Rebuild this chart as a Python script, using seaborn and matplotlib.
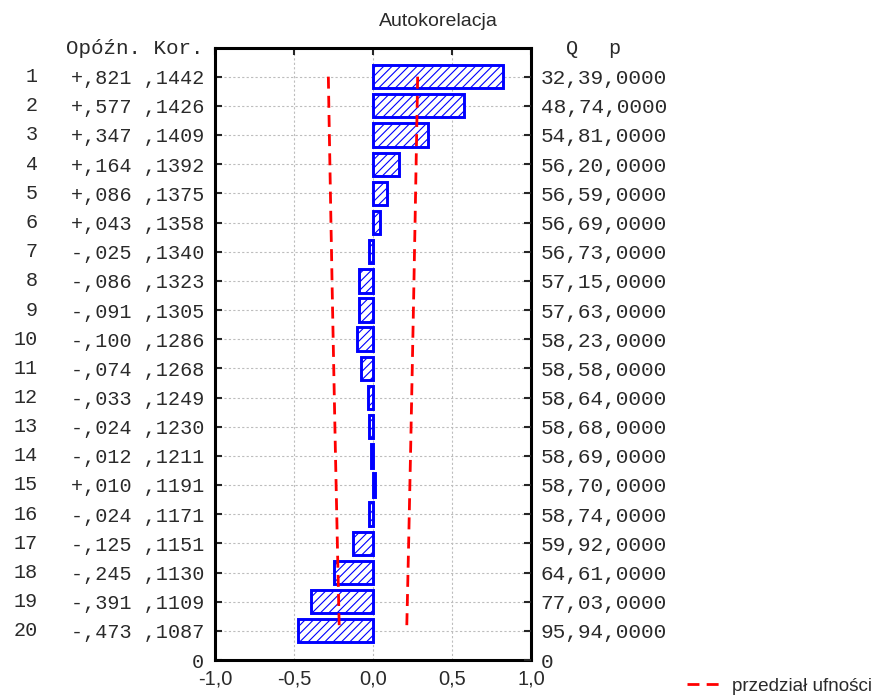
import matplotlib
matplotlib.use("Agg")
import matplotlib.pyplot as plt
from matplotlib.lines import Line2D
from matplotlib.transforms import blended_transform_factory
import seaborn as sns

# Autocorrelation function: lag, coefficient, standard error, Box-Ljung Q, p
lags = list(range(1, 21))
autocorr = [0.821, 0.577, 0.347, 0.164, 0.086, 0.043, -0.025, -0.086, -0.091, -0.100,
            -0.074, -0.033, -0.024, -0.012, 0.010, -0.024, -0.125, -0.245, -0.391, -0.473]
std_err = [0.1442, 0.1426, 0.1409, 0.1392, 0.1375, 0.1358, 0.1340, 0.1323, 0.1305, 0.1286,
           0.1268, 0.1249, 0.1230, 0.1211, 0.1191, 0.1171, 0.1151, 0.1130, 0.1109, 0.1087]
q_stat = [32.39, 48.74, 54.81, 56.20, 56.59, 56.69, 56.73, 57.15, 57.63, 58.23,
          58.58, 58.64, 58.68, 58.69, 58.70, 58.74, 59.92, 64.61, 77.03, 95.94]
p_value = [0.0] * 20
# Confidence limits (1.96 * standard error)
conf_limit = [0.2826, 0.2795, 0.2762, 0.2728, 0.2695, 0.2662, 0.2626, 0.2593, 0.2558, 0.2521,
              0.2485, 0.2448, 0.2411, 0.2374, 0.2334, 0.2295, 0.2256, 0.2215, 0.2174, 0.2131]
x_ticks = [-1.0, -0.5, 0.0, 0.5, 1.0]
x_tick_labels = ["-1,0", "-0,5", "0,0", "0,5", "1,0"]

MONO = "Liberation Mono"
SANS = "Liberation Sans"
TXT = "#2a2a2a"
MONO_SIZE = 14.5


def fmt_r(v):
    return ("+" if v >= 0 else "-") + "," + f"{round(abs(v) * 1000):03d}"


def fmt_se(v):
    return "," + f"{round(v * 10000):04d}"


def fmt_q(v):
    return f"{v:.2f}".replace(".", ",")


def fmt_p(v):
    return "," + f"{round(v * 10000):04d}"


left_labels = [f"{fmt_r(r)} {fmt_se(s)}" for r, s in zip(autocorr, std_err)] + ["0"]
right_labels = [f"{fmt_q(q)}{fmt_p(p)}" for q, p in zip(q_stat, p_value)] + ["0"]
y_ticks = lags + [21]

sns.set_style("white")
plt.rcParams["hatch.linewidth"] = 0.8

fig = plt.figure(figsize=(8.77, 6.97), dpi=100)
ax = fig.add_axes([215 / 877, 1 - 660 / 697, 316 / 877, 612.5 / 697])

sns.barplot(x=autocorr, y=lags, orient="h", native_scale=True, width=0.8,
            color="white", saturation=1, edgecolor="#0000ff", linewidth=2.1,
            hatch="////", errorbar=None, ax=ax, zorder=3)
for patch in ax.patches:
    patch.set_facecolor("white")
    patch.set_edgecolor("#0000ff")

dash = (0, (4.3, 2.6))
sns.lineplot(x=[-c for c in conf_limit], y=lags, orient="y", sort=False, estimator=None,
             color="red", linewidth=2.0, linestyle=dash, ax=ax, zorder=4)
sns.lineplot(x=conf_limit, y=lags, orient="y", sort=False, estimator=None,
             color="red", linewidth=2.0, linestyle=dash, ax=ax, zorder=4)

ax.set_xlim(-1, 1)
ax.set_ylim(21, 0)
ax.set_xticks(x_ticks)
ax.set_xticklabels(x_tick_labels, fontfamily=SANS, fontsize=14.5, color=TXT)
ax.set_yticks(y_ticks)
ax.set_yticklabels(left_labels, fontfamily=MONO, fontsize=MONO_SIZE, color=TXT)
ax.set_xlabel("")
ax.set_ylabel("")
ax.set_axisbelow(True)
ax.grid(True, color="#bdbdbd", linestyle=(0, (2, 2)), linewidth=0.8)
ax.tick_params(axis="x", direction="in", length=5, width=1.5, top=True, pad=7)
ax.tick_params(axis="y", direction="in", length=5, width=1.5, pad=8)
for sp in ax.spines.values():
    sp.set_visible(True)
    sp.set_color("black")
    sp.set_linewidth(2.2)

twin = ax.twinx()
twin.set_ylim(21, 0)
twin.set_yticks(y_ticks)
twin.set_yticklabels(right_labels, fontfamily=MONO, fontsize=15.2, color=TXT)
twin.tick_params(axis="y", direction="in", length=5, width=1.5, pad=7)
for sp in twin.spines.values():
    sp.set_visible(False)

# Lag numbers to the left of the coefficient column
tr = blended_transform_factory(fig.transFigure, ax.transData)
for lag in lags:
    ax.text(38 / 877, lag, str(lag), transform=tr, ha="right", va="center",
            fontfamily=MONO, fontsize=MONO_SIZE, color=TXT)

fig.text(203 / 877, 1 - 48 / 697, "Opóźn. Kor.", ha="right", va="center",
         fontfamily=MONO, fontsize=15, color=TXT)
fig.text(572 / 877, 1 - 48 / 697, "Q", ha="center", va="center",
         fontfamily=MONO, fontsize=MONO_SIZE, color=TXT)
fig.text(614 / 877, 1 - 48 / 697, "p", ha="center", va="center",
         fontfamily=MONO, fontsize=MONO_SIZE, color=TXT)
fig.text(0.5, 1 - 21 / 697, "Autokorelacja", ha="center", va="center",
         fontfamily=SANS, fontsize=14, color=TXT)

handle = Line2D([], [], color="red", linewidth=2.0, linestyle=dash)
fig.legend([handle], ["przedział ufności"], loc="center left",
           bbox_to_anchor=(687 / 877, 1 - 686 / 697), frameon=False,
           borderaxespad=0, borderpad=0, handlelength=1.75, handletextpad=0.65,
           prop={"family": SANS, "size": 13.6}, labelcolor=TXT)

fig.savefig("out.png", dpi=100)
